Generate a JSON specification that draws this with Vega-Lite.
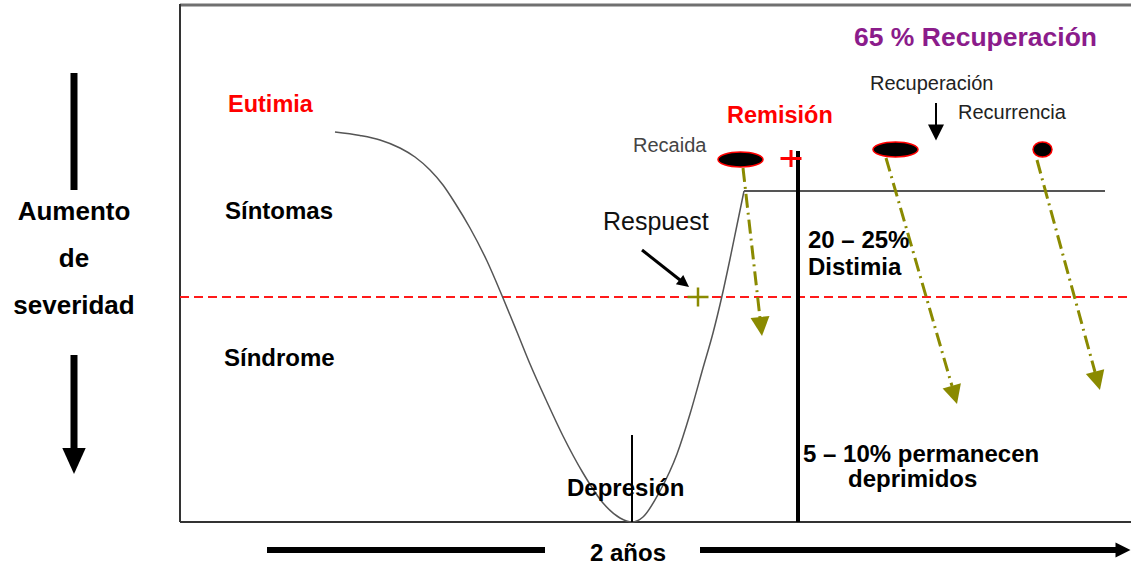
{
  "$schema": "https://vega.github.io/schema/vega-lite/v6.json",
  "width": 1131,
  "height": 571,
  "autosize": {"type": "none"},
  "padding": 0,
  "background": "white",
  "config": {"view": {"stroke": null}},
  "encoding": {
    "x": {"field": "x", "type": "quantitative", "scale": {"domain": [0, 1131], "nice": false, "zero": false}, "axis": null},
    "y": {"field": "y", "type": "quantitative", "scale": {"domain": [0, 571], "nice": false, "zero": false, "reverse": true}, "axis": null}
  },
  "layer": [
    {
      "data": {"values": [{"x": 180, "y": 5, "x2": 1131, "y2": 5}]},
      "mark": {"type": "rule", "color": "#707070", "strokeWidth": 3},
      "encoding": {"x2": {"field": "x2"}, "y2": {"field": "y2"}}
    },
    {
      "data": {"values": [{"x": 180, "y": 4, "x2": 180, "y2": 522}, {"x": 180, "y": 522, "x2": 1131, "y2": 522}]},
      "mark": {"type": "rule", "color": "#333333", "strokeWidth": 2},
      "encoding": {"x2": {"field": "x2"}, "y2": {"field": "y2"}}
    },
    {
      "data": {"values": [{"x": 180, "y": 297, "x2": 1131, "y2": 297}]},
      "mark": {"type": "rule", "color": "#ff1a1a", "strokeWidth": 2, "strokeDash": [9, 5]},
      "encoding": {"x2": {"field": "x2"}, "y2": {"field": "y2"}}
    },
    {
      "data": {"values": [
        {"x": 335, "y": 132}, {"x": 360, "y": 135.5}, {"x": 380, "y": 140}, {"x": 400, "y": 148},
        {"x": 415, "y": 157}, {"x": 430, "y": 170}, {"x": 443, "y": 185}, {"x": 455, "y": 203},
        {"x": 470, "y": 228}, {"x": 487, "y": 261}, {"x": 503, "y": 298}, {"x": 517, "y": 332},
        {"x": 530, "y": 364}, {"x": 547, "y": 402}, {"x": 563, "y": 436}, {"x": 583, "y": 473},
        {"x": 603, "y": 503}, {"x": 620, "y": 518}, {"x": 632, "y": 522}, {"x": 643, "y": 517},
        {"x": 660, "y": 491}, {"x": 677, "y": 454}, {"x": 690, "y": 414}, {"x": 703, "y": 368},
        {"x": 713, "y": 333}, {"x": 722, "y": 296}, {"x": 730, "y": 259}, {"x": 737, "y": 225},
        {"x": 744, "y": 191}
      ]},
      "mark": {"type": "line", "color": "#555555", "strokeWidth": 1.5, "interpolate": "monotone"}
    },
    {
      "data": {"values": [{"x": 744, "y": 191, "x2": 1105, "y2": 191}]},
      "mark": {"type": "rule", "color": "#555555", "strokeWidth": 2},
      "encoding": {"x2": {"field": "x2"}, "y2": {"field": "y2"}}
    },
    {
      "data": {"values": [{"x": 632, "y": 435, "x2": 632, "y2": 522}, {"x": 936, "y": 103, "x2": 936, "y2": 127}]},
      "mark": {"type": "rule", "color": "#000000", "strokeWidth": 2},
      "encoding": {"x2": {"field": "x2"}, "y2": {"field": "y2"}}
    },
    {
      "data": {"values": [{"x": 798, "y": 151, "x2": 798, "y2": 522}]},
      "mark": {"type": "rule", "color": "#000000", "strokeWidth": 4},
      "encoding": {"x2": {"field": "x2"}, "y2": {"field": "y2"}}
    },
    {
      "data": {"values": [{"x": 642, "y": 250, "x2": 680, "y2": 280}]},
      "mark": {"type": "rule", "color": "#000000", "strokeWidth": 3},
      "encoding": {"x2": {"field": "x2"}, "y2": {"field": "y2"}}
    },
    {
      "data": {"values": [{"x": 74, "y": 73, "x2": 74, "y2": 190}, {"x": 74, "y": 355, "x2": 74, "y2": 450}]},
      "mark": {"type": "rule", "color": "#000000", "strokeWidth": 7},
      "encoding": {"x2": {"field": "x2"}, "y2": {"field": "y2"}}
    },
    {
      "data": {"values": [{"x": 267, "y": 550, "x2": 545, "y2": 550}, {"x": 700, "y": 550, "x2": 1118, "y2": 550}]},
      "mark": {"type": "rule", "color": "#000000", "strokeWidth": 6},
      "encoding": {"x2": {"field": "x2"}, "y2": {"field": "y2"}}
    },
    {
      "data": {"values": [
        {"x": 743, "y": 168, "x2": 760, "y2": 318},
        {"x": 886, "y": 158, "x2": 952, "y2": 386},
        {"x": 1037, "y": 160, "x2": 1095, "y2": 372}
      ]},
      "mark": {"type": "rule", "color": "#8a8a00", "strokeWidth": 3, "strokeDash": [14, 5, 2, 5]},
      "encoding": {"x2": {"field": "x2"}, "y2": {"field": "y2"}}
    },
    {
      "data": {"values": [{"x": 761, "y": 326.5}]},
      "mark": {"type": "point", "shape": "M-1,-1L1,-1L0,1Z", "size": 361, "filled": true, "color": "#8a8a00", "opacity": 1, "angle": -6}
    },
    {
      "data": {"values": [{"x": 954.4, "y": 394.9}]},
      "mark": {"type": "point", "shape": "M-1,-1L1,-1L0,1Z", "size": 361, "filled": true, "color": "#8a8a00", "opacity": 1, "angle": -16}
    },
    {
      "data": {"values": [{"x": 1097.5, "y": 380.8}]},
      "mark": {"type": "point", "shape": "M-1,-1L1,-1L0,1Z", "size": 361, "filled": true, "color": "#8a8a00", "opacity": 1, "angle": -15}
    },
    {
      "data": {"values": [{"x": 936, "y": 132.5}]},
      "mark": {"type": "point", "shape": "M-1,-1L1,-1L0,1Z", "size": 256, "filled": true, "color": "#000000", "opacity": 1}
    },
    {
      "data": {"values": [{"x": 74, "y": 461}]},
      "mark": {"type": "point", "shape": "M-0.9,-1L0.9,-1L0,1Z", "size": 676, "filled": true, "color": "#000000", "opacity": 1}
    },
    {
      "data": {"values": [{"x": 1123, "y": 550}]},
      "mark": {"type": "point", "shape": "M-1,-1L1,0L-1,1Z", "size": 225, "filled": true, "color": "#000000", "opacity": 1}
    },
    {
      "data": {"values": [{"x": 684.3, "y": 283.3}]},
      "mark": {"type": "point", "shape": "M-1,-1L1,-1L0,1Z", "size": 144, "filled": true, "color": "#000000", "opacity": 1, "angle": -52}
    },
    {
      "data": {"values": [{"x": 740.5, "y": 159.5}, {"x": 895.5, "y": 149.5}]},
      "mark": {"type": "point", "shape": "M-1,0A1,0.33,0,1,0,1,0A1,0.33,0,1,0,-1,0Z", "size": 2025, "filled": true, "fill": "#000000", "stroke": "#ff0000", "strokeWidth": 1.5, "opacity": 1}
    },
    {
      "data": {"values": [{"x": 1042.5, "y": 149.5}]},
      "mark": {"type": "point", "shape": "M-1,0A1,0.79,0,1,0,1,0A1,0.79,0,1,0,-1,0Z", "size": 361, "filled": true, "fill": "#000000", "stroke": "#ff0000", "strokeWidth": 1.5, "opacity": 1}
    },
    {
      "data": {"values": [{"x": 791, "y": 158.5}]},
      "mark": {"type": "point", "shape": "M-1,0L1,0M0,-0.8L0,0.8", "size": 441, "filled": false, "color": "#ff0000", "strokeWidth": 3, "opacity": 1}
    },
    {
      "data": {"values": [{"x": 698, "y": 297}]},
      "mark": {"type": "point", "shape": "M-1,0L1,0M0,-0.9L0,0.9", "size": 441, "filled": false, "color": "#8a8a00", "strokeWidth": 2.5, "opacity": 1}
    },
    {
      "data": {"values": [{"x": 854, "y": 46, "t": "65 % Recuperación"}]},
      "mark": {"type": "text", "font": "Liberation Sans", "fontWeight": "bold", "fontSize": 26.5, "color": "#8b1c8b", "align": "left", "baseline": "alphabetic"},
      "encoding": {"text": {"field": "t"}}
    },
    {
      "data": {"values": [{"x": 727, "y": 123, "t": "Remisión"}, {"x": 228, "y": 112, "t": "Eutimia"}]},
      "mark": {"type": "text", "font": "Liberation Sans", "fontWeight": "bold", "fontSize": 23.5, "color": "#ff0000", "align": "left", "baseline": "alphabetic"},
      "encoding": {"text": {"field": "t"}}
    },
    {
      "data": {"values": [
        {"x": 225, "y": 219, "t": "Síntomas"},
        {"x": 224, "y": 366, "t": "Síndrome"},
        {"x": 567, "y": 496, "t": "Depresión"},
        {"x": 808, "y": 248, "t": "20 – 25%"},
        {"x": 808, "y": 275, "t": "Distimia"},
        {"x": 803, "y": 462, "t": "5 – 10% permanecen"},
        {"x": 848, "y": 487, "t": "deprimidos"},
        {"x": 590, "y": 561, "t": "2 años"}
      ]},
      "mark": {"type": "text", "font": "Liberation Sans", "fontWeight": "bold", "fontSize": 24, "color": "#000000", "align": "left", "baseline": "alphabetic"},
      "encoding": {"text": {"field": "t"}}
    },
    {
      "data": {"values": [
        {"x": 74, "y": 220, "t": "Aumento"},
        {"x": 74, "y": 267, "t": "de"},
        {"x": 74, "y": 314, "t": "severidad"}
      ]},
      "mark": {"type": "text", "font": "Liberation Sans", "fontWeight": "bold", "fontSize": 26, "color": "#000000", "align": "center", "baseline": "alphabetic"},
      "encoding": {"text": {"field": "t"}}
    },
    {
      "data": {"values": [
        {"x": 870, "y": 90, "t": "Recuperación"},
        {"x": 958, "y": 119, "t": "Recurrencia"}
      ]},
      "mark": {"type": "text", "font": "Liberation Sans", "fontSize": 20, "color": "#222222", "align": "left", "baseline": "alphabetic"},
      "encoding": {"text": {"field": "t"}}
    },
    {
      "data": {"values": [{"x": 633, "y": 152, "t": "Recaida"}]},
      "mark": {"type": "text", "font": "Liberation Sans", "fontSize": 20, "color": "#444444", "align": "left", "baseline": "alphabetic"},
      "encoding": {"text": {"field": "t"}}
    },
    {
      "data": {"values": [{"x": 603, "y": 230, "t": "Respuest"}]},
      "mark": {"type": "text", "font": "Liberation Sans", "fontSize": 25, "color": "#111111", "align": "left", "baseline": "alphabetic"},
      "encoding": {"text": {"field": "t"}}
    }
  ]
}
